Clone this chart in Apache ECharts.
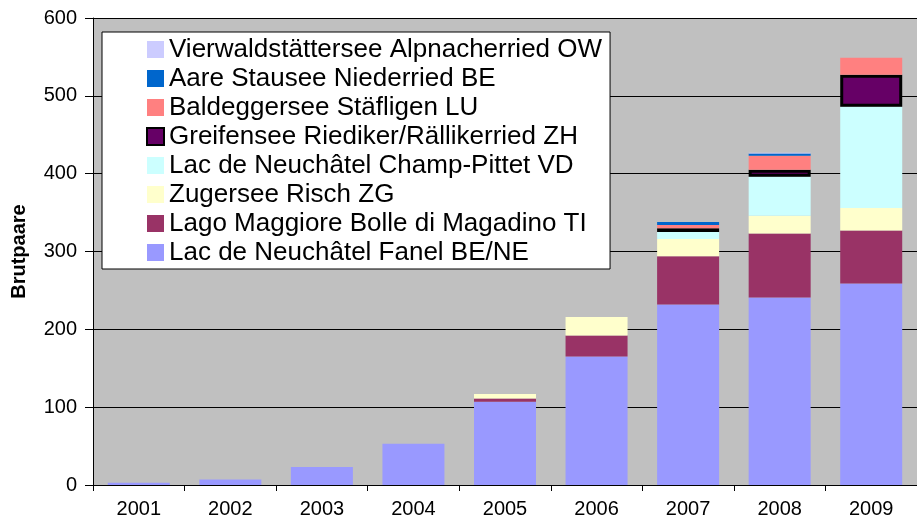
<!DOCTYPE html>
<html>
<head>
<meta charset="utf-8">
<script src="https://cdn.jsdelivr.net/npm/echarts@6/dist/echarts.min.js"></script>
<style>
  html, body { margin: 0; padding: 0; background: #fff; }
  #chart { width: 917px; height: 528px; }
</style>
</head>
<body>
<div id="chart"></div>
<script>
// Jahre
const years = ['2001', '2002', '2003', '2004', '2005', '2006', '2007', '2008', '2009'];

// Brutpaare pro Standort (von unten nach oben gestapelt), 0 = keine Brut
const fanel      = [3, 7, 23, 53, 107, 165, 232, 241, 259];
const maggiore   = [0, 0, 0, 0, 4, 27, 62, 82, 68];
const zugersee   = [0, 0, 0, 0, 6, 24, 22, 23, 29];
const champ      = [0, 0, 0, 0, 0, 0, 9, 50, 130];
const greifensee = [0, 0, 0, 0, 0, 0, 5, 9, 41];
const baldegger  = [0, 0, 0, 0, 0, 0, 4, 18, 22];
const aare       = [0, 0, 0, 0, 0, 0, 4, 3, 0];
const vierwald   = [0, 0, 0, 0, 0, 0, 0, 1, 0];

const yTicks = { min: 0, max: 600, interval: 100 };

const seriesDefs = [
  { name: 'Lac de Neuchâtel Fanel BE/NE', data: fanel, color: '#9999ff' },
  { name: 'Lago Maggiore Bolle di Magadino TI', data: maggiore, color: '#993366' },
  { name: 'Zugersee Risch ZG', data: zugersee, color: '#ffffcc' },
  { name: 'Lac de Neuchâtel Champ-Pittet VD', data: champ, color: '#ccffff' },
  { name: 'Greifensee Riediker/Rällikerried ZH', data: greifensee, color: '#660066', border: true },
  { name: 'Baldeggersee Stäfligen LU', data: baldegger, color: '#ff8080' },
  { name: 'Aare Stausee Niederried BE', data: aare, color: '#0066cc' },
  { name: 'Vierwaldstättersee Alpnacherried OW', data: vierwald, color: '#ccccff' }
];

const chart = echarts.init(document.getElementById('chart'));

const option = {
  animation: false,
  backgroundColor: '#ffffff',
  textStyle: { fontFamily: 'Liberation Sans, Arial, sans-serif' },
  grid: {
    left: 93,
    top: 18,
    bottom: 43,
    right: -8,
    show: true,
    backgroundColor: '#c0c0c0',
    borderWidth: 0
  },
  legend: {
    orient: 'vertical',
    left: 102,
    top: 32,
    backgroundColor: '#ffffff',
    borderColor: '#000000',
    borderWidth: 1,
    borderRadius: 0,
    padding: [3, 8, 2, 44],
    itemGap: 0,
    itemWidth: 17,
    itemHeight: 17,
    icon: 'rect',
    textStyle: { fontSize: 26, lineHeight: 29, color: '#000', fontFamily: 'Liberation Sans, Arial, sans-serif' },
    data: seriesDefs.map(s => s.name).reverse()
  },
  xAxis: {
    type: 'category',
    data: years,
    axisLine: { lineStyle: { color: '#000', width: 1 } },
    axisTick: { show: true, length: 6, lineStyle: { color: '#000' } },
    axisLabel: { fontSize: 20, color: '#000', margin: 14 }
  },
  yAxis: {
    type: 'value',
    min: yTicks.min,
    max: yTicks.max,
    interval: yTicks.interval,
    name: 'Brutpaare',
    nameLocation: 'middle',
    nameRotate: 90,
    nameGap: 64,
    nameTextStyle: { fontSize: 20, fontWeight: 'bold', color: '#000' },
    axisLine: { show: true, lineStyle: { color: '#000', width: 1 } },
    axisTick: { show: true, length: 8, lineStyle: { color: '#000' } },
    axisLabel: { fontSize: 20, color: '#000', margin: 16 },
    splitLine: { show: true, lineStyle: { color: '#000', width: 1 } }
  },
  series: seriesDefs.map(s => ({
    name: s.name,
    type: 'bar',
    stack: 'total',
    barWidth: 62,
    // leere Werte nicht zeichnen (sonst Rahmen bei 0)
    data: s.data.map(v => (v === 0 ? '-' : v)),
    itemStyle: s.border
      ? { color: s.color, borderColor: '#000', borderWidth: 3 }
      : { color: s.color }
  }))
};

chart.setOption(option);
</script>
</body>
</html>
